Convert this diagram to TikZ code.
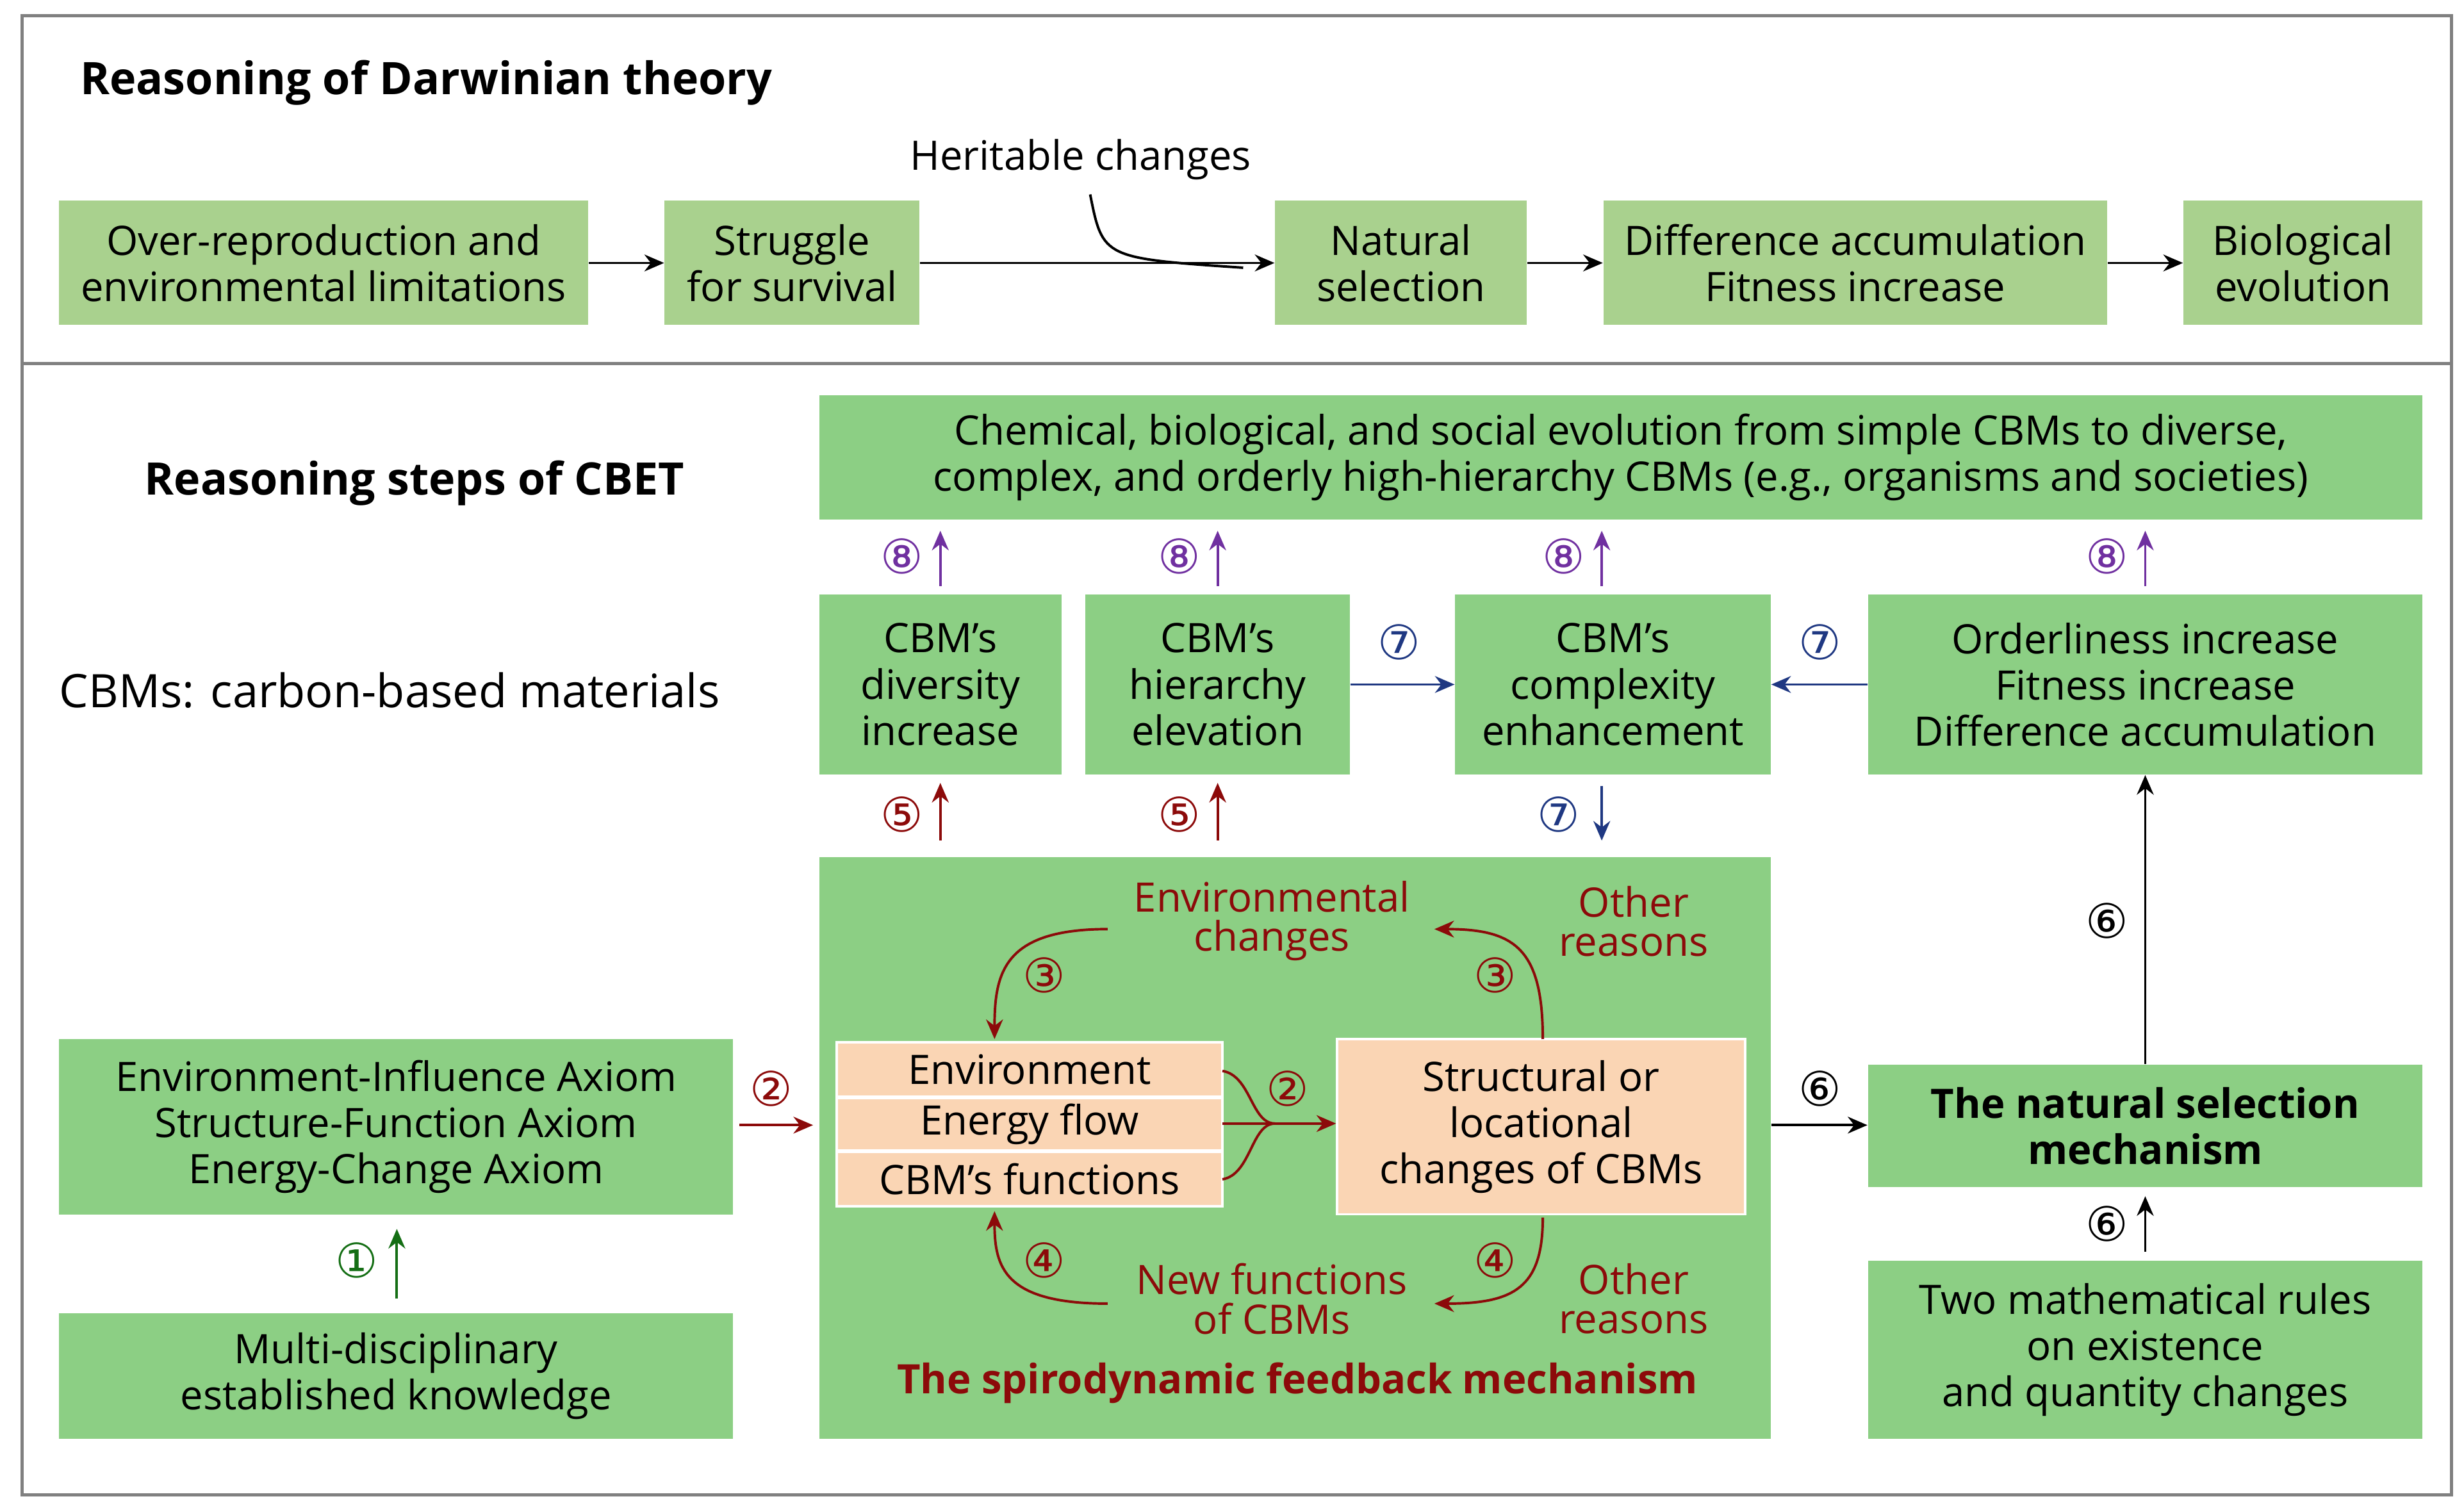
\documentclass[tikz,border=0pt]{standalone}
\usepackage{fontspec}
\setmainfont{Open Sans}
\newfontfamily\cfont{DejaVu Sans}
\usetikzlibrary{arrows.meta}
\definecolor{olive}{RGB}{169,209,142}
\definecolor{gr}{RGB}{140,207,132}
\definecolor{beige}{RGB}{250,213,180}
\definecolor{dred}{RGB}{140,10,10}
\definecolor{purp}{RGB}{112,48,160}
\definecolor{navy}{RGB}{31,56,130}
\definecolor{dgreen}{RGB}{20,110,20}
\newcommand\mybox[7]{\node[#6,minimum width={(#4-#2)*0.02cm},minimum height={(#5-#3)*0.02cm}] (#1) at ({(#2+#4)/2},{(#3+#5)/2}) {#7};}
\newcommand\cn[1]{{\cfont\fontsize{17}{17}\selectfont #1}}
\begin{document}
\begin{tikzpicture}[x=0.02cm,y=-0.02cm,
  every node/.style={font=\fontsize{14.5}{16.5}\selectfont,align=center,inner sep=0pt},
  obox/.style={fill=olive},
  gbox/.style={fill=gr},
  bbox/.style={fill=beige,draw=white,line width=0.8pt},
  arr/.style={-{Stealth[length=7pt,width=6pt]},line width=0.9pt},
  rarr/.style={arr,draw=dred},
  lab/.style={text=dred,font=\fontsize{14.5}{14}\selectfont}]
\useasboundingbox (0,0) rectangle (1546,946);
\draw[gray,line width=1.2pt] (14,10) rectangle (1538,938);
\draw[gray,line width=1.2pt] (14,228) -- (1538,228);
\node[font=\fontsize{16}{18}\selectfont\bfseries,anchor=west] (t1) at (50,52) {Reasoning of Darwinian theory};
\mybox{A1}{37}{126}{369}{204}{obox}{Over-reproduction and\\environmental limitations}
\mybox{A2}{417}{126}{577}{204}{obox}{Struggle\\for survival}
\mybox{A3}{800}{126}{958}{204}{obox}{Natural\\selection}
\mybox{A4}{1006}{126}{1322}{204}{obox}{Difference accumulation\\Fitness increase}
\mybox{A5}{1370}{126}{1520}{204}{obox}{Biological\\evolution}
\draw[arr] (A1) -- (A2);
\draw[arr] (A2) -- (A3);
\draw[arr] (A3) -- (A4);
\draw[arr] (A4) -- (A5);
\node (hc) at (678,100) {Heritable changes};
\coordinate (hj) at (780,168);
\draw[line width=0.9pt] (684,122) .. controls (692,162) .. (hj);
\node[font=\fontsize{16}{18}\selectfont\bfseries] (t2) at (260,303) {Reasoning steps of CBET};
\node[font=\fontsize{16.5}{18}\selectfont,anchor=west] (cbm) at (37,433) {CBMs: carbon-based materials};
\mybox{T}{514}{248}{1520}{326}{gbox}{Chemical, biological, and social evolution from simple CBMs to diverse,\\complex, and orderly high-hierarchy CBMs (e.g., organisms and societies)}
\mybox{B1}{514}{373}{666}{486}{gbox}{CBM's\\diversity\\increase}
\mybox{B2}{681}{373}{847}{486}{gbox}{CBM's\\hierarchy\\elevation}
\mybox{B3}{913}{373}{1111}{486}{gbox}{CBM's\\complexity\\enhancement}
\mybox{B4}{1172}{373}{1520}{486}{gbox}{Orderliness increase\\Fitness increase\\Difference accumulation}
\foreach \b/\x in {B1/590,B2/764,B3/1005,B4/1346}{
  \draw[arr,purp,shorten <=3pt,shorten >=4pt] (\x,373) -- (\x,326);
  \node[text=purp] at (\x-24,349) {\cn{⑧}};}
\draw[arr,navy] (B2) -- (B3); \node[text=navy] (n71) at (878,403) {\cn{⑦}};
\draw[arr,navy] (B4) -- (B3); \node[text=navy] (n72) at (1142,403) {\cn{⑦}};
\mybox{S}{514}{538}{1111}{903}{gbox}{}
\draw[arr,navy,shorten <=4pt,shorten >=6pt] (1005,486) -- (1005,538); \node[text=navy] at (978,511) {\cn{⑦}};
\foreach \x in {590,764}{
  \draw[rarr,shorten <=6pt,shorten >=3pt] (\x,538) -- (\x,486);
  \node[text=dred] at (\x-24,511) {\cn{⑤}};}
\mybox{env}{525}{654}{767}{688}{bbox}{Environment}
\mybox{ef}{525}{689}{767}{722}{bbox}{Energy flow}
\mybox{cf}{525}{723}{767}{757}{bbox}{CBM's functions}
\mybox{st}{839}{652}{1095}{762}{bbox}{Structural or\\locational\\changes of CBMs}
\node[lab] (ec) at (798,578) {Environmental\\changes};
\node[lab] (or1) at (1025,578) {Other\\reasons};
\node[lab] (nf) at (798,815) {New functions\\of CBMs};
\node[lab] (or2) at (1025,815) {Other\\reasons};
\node[lab,font=\fontsize{14.5}{16.5}\selectfont\bfseries] (sfm) at (814,868) {The spirodynamic feedback mechanism};
\coordinate (e3) at (624,652);
\coordinate (c4) at (624,760);
\draw[rarr] (695,583) .. controls (630,583) and (624,610) .. (e3);
\node[text=dred] at (655,612) {\cn{③}};
\draw[rarr] (968,652) .. controls (968,595) and (950,583) .. (900,583);
\node[text=dred] at (938,612) {\cn{③}};
\draw[rarr] (968,764) .. controls (968,808) and (950,818) .. (900,818);
\node[text=dred] at (938,791) {\cn{④}};
\draw[rarr] (695,818) .. controls (630,818) and (624,795) .. (c4);
\node[text=dred] at (655,791) {\cn{④}};
\draw[dred,line width=0.9pt] (767,672) .. controls (785,675) and (785,705) .. (800,705);
\draw[dred,line width=0.9pt] (767,740) .. controls (785,737) and (785,705) .. (800,705);
\draw[rarr] (767,705) -- (st.west |- 0,705);
\node[text=dred] at (808,683) {\cn{②}};
\mybox{ax}{37}{652}{460}{762}{gbox}{Environment-Influence Axiom\\Structure-Function Axiom\\Energy-Change Axiom}
\mybox{kn}{37}{824}{460}{903}{gbox}{Multi-disciplinary\\established knowledge}
\draw[arr,dgreen,shorten <=5pt,shorten >=5pt] (kn.north -| 249,0) -- (ax.south -| 249,0);
\node[text=dgreen] at (224,791) {\cn{①}};
\draw[rarr,shorten <=2pt,shorten >=2pt] (ax.east |- 0,706) -- (S.west |- 0,706);
\node[text=dred] at (484,683) {\cn{②}};
\mybox{ns}{1172}{668}{1520}{745}{gbox,font=\fontsize{14.5}{16.5}\selectfont\bfseries}{The natural selection\\mechanism}
\mybox{ru}{1172}{791}{1520}{903}{gbox}{Two mathematical rules\\on existence\\and quantity changes}
\draw[arr] (S.east |- 0,706) -- (ns.west |- 0,706);
\node at (1142,683) {\cn{⑥}};
\draw[arr] (ns.north) -- (B4.south);
\node at (1322,578) {\cn{⑥}};
\draw[arr,shorten <=3pt,shorten >=3pt] (ru.north) -- (ns.south);
\node at (1322,768) {\cn{⑥}};
\end{tikzpicture}
\end{document}
